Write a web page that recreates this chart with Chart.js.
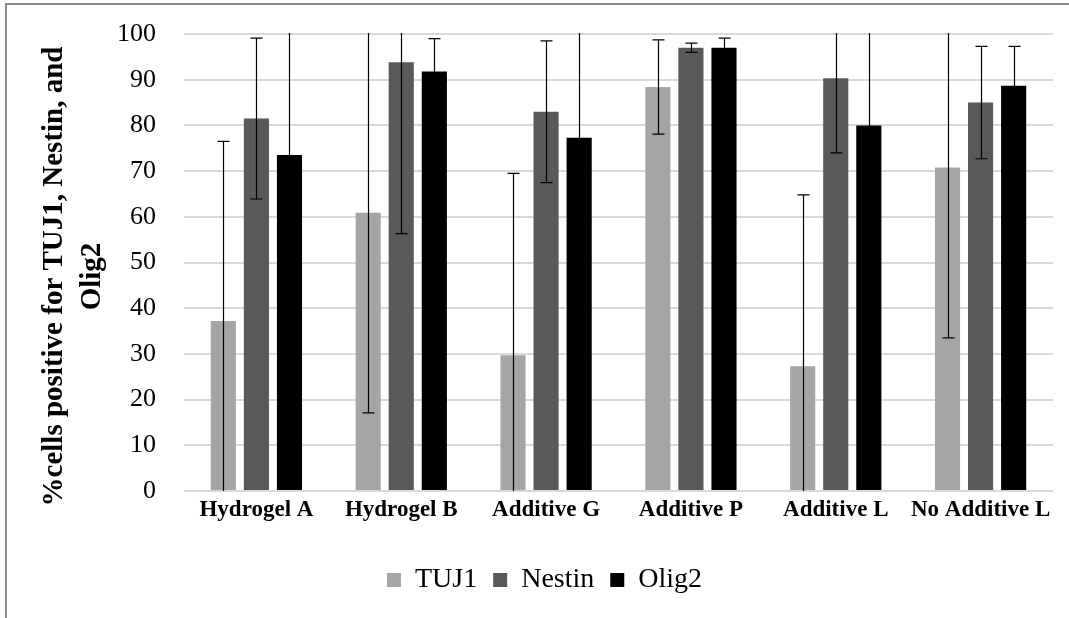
<!DOCTYPE html>
<html>
<head>
<meta charset="utf-8">
<script src="https://cdn.jsdelivr.net/npm/chart.js@4/dist/chart.umd.min.js"></script>
<style>
  body { margin: 0; background: #fff; }
  #box {
    position: absolute; left: 5px; top: 3px; width: 1064px; height: 615px;
    border-top: 2px solid #8c8c8c; border-left: 2px solid #8c8c8c;
    box-sizing: border-box;
  }
</style>
</head>
<body>
<div id="box"><canvas id="myChart"></canvas></div>
<script>
var categories = ['Hydrogel A', 'Hydrogel B', 'Additive G', 'Additive P', 'Additive L', 'No Additive L'];
var tuj1 = [37.2, 60.9, 29.7, 88.4, 27.3, 70.8];
var tuj1Err = [39.3, 43.8, 39.8, 10.3, 37.5, 37.3];
var nestin = [81.5, 93.8, 83.0, 97.0, 90.3, 85.0];
var nestinErr = [17.6, 37.5, 15.5, 1.0, 16.3, 12.3];
var olig2 = [73.5, 91.8, 77.3, 97.0, 80.0, 88.7];
var olig2Err = [30, 7.2, 25, 2.1, 25, 8.6];
var yTicks = [0, 10, 20, 30, 40, 50, 60, 70, 80, 90, 100];

var serif = "'Liberation Serif', 'Times New Roman', serif";

// draws the +/- error bars, clipped to the plot area like Excel does
var errorBars = {
    id: 'errorBars',
    afterDatasetsDraw: function (chart) {
        var ctx = chart.ctx;
        var area = chart.chartArea;
        var y = chart.scales.y;
        ctx.save();
        ctx.beginPath();
        ctx.rect(area.left, area.top - 1, area.right - area.left, area.bottom - area.top + 1);
        ctx.clip();
        ctx.strokeStyle = '#000';
        ctx.lineWidth = 1.2;
        chart.data.datasets.forEach(function (ds, i) {
            var meta = chart.getDatasetMeta(i);
            meta.data.forEach(function (bar, j) {
                var v = ds.data[j], e = ds.errors[j];
                var x = Math.round(bar.x) + 0.5;
                var yTop = y.getPixelForValue(v + e);
                var yBot = y.getPixelForValue(v - e);
                ctx.beginPath();
                ctx.moveTo(x, yTop);
                ctx.lineTo(x, yBot);
                ctx.moveTo(x - 6, yTop);
                ctx.lineTo(x + 6, yTop);
                ctx.moveTo(x - 6, yBot);
                ctx.lineTo(x + 6, yBot);
                ctx.stroke();
            });
        });
        ctx.restore();
    }
};

var data = {
    labels: categories,
    datasets: [
        { label: 'TUJ1', data: tuj1, errors: tuj1Err, backgroundColor: '#a5a5a5' },
        { label: 'Nestin', data: nestin, errors: nestinErr, backgroundColor: '#595959' },
        { label: 'Olig2', data: olig2, errors: olig2Err, backgroundColor: '#000000' }
    ]
};

var config = {
    type: 'bar',
    data: data,
    options: {
        responsive: true,
        maintainAspectRatio: false,
        animation: false,
        categoryPercentage: 0.685,
        barPercentage: 0.76,
        layout: { padding: { top: 0, right: 16, bottom: 14, left: 29 } },
        plugins: {
            tooltip: { enabled: false },
            legend: {
                position: 'bottom',
                labels: {
                    boxWidth: 14, boxHeight: 14, padding: 16,
                    color: '#000',
                    font: { family: serif, size: 28 }
                }
            }
        },
        scales: {
            x: {
                grid: { display: false, tickLength: 4 },
                border: { display: false },
                afterFit: function (axis) { axis.height = 59; },
                ticks: {
                    color: '#000', padding: 1, maxRotation: 0, minRotation: 0, autoSkip: false,
                    font: { family: serif, size: 23, weight: 'bold' }
                }
            },
            y: {
                min: 0, max: 100,
                afterBuildTicks: function (axis) {
                    axis.ticks = yTicks.map(function (v) { return { value: v }; });
                },
                afterFit: function (axis) {
                    axis.width = 148;
                    axis.paddingTop = 29;
                    axis.paddingBottom = 0;
                    // the title sits a bit lower than the plot centre in the original
                    if (!axis._titleMoved) {
                        var orig = axis.drawTitle;
                        axis.drawTitle = function () {
                            this.ctx.save();
                            this.ctx.translate(0, 14);
                            orig.call(this);
                            this.ctx.restore();
                        };
                        axis._titleMoved = true;
                    }
                },
                grid: { color: '#d9d9d9', lineWidth: 2, drawTicks: false },
                border: { display: false },
                ticks: { color: '#000', padding: 28, font: { family: serif, size: 26 } },
                title: {
                    display: true,
                    text: ['%cells positive for TUJ1, Nestin, and', 'Olig2'],
                    color: '#000',
                    padding: { top: 0, bottom: 0 },
                    font: { family: serif, size: 29, weight: 'bold', lineHeight: 1.3 }
                }
            }
        }
    },
    plugins: [errorBars]
};

var myChart = new Chart(document.getElementById('myChart').getContext('2d'), config);
</script>
</body>
</html>
